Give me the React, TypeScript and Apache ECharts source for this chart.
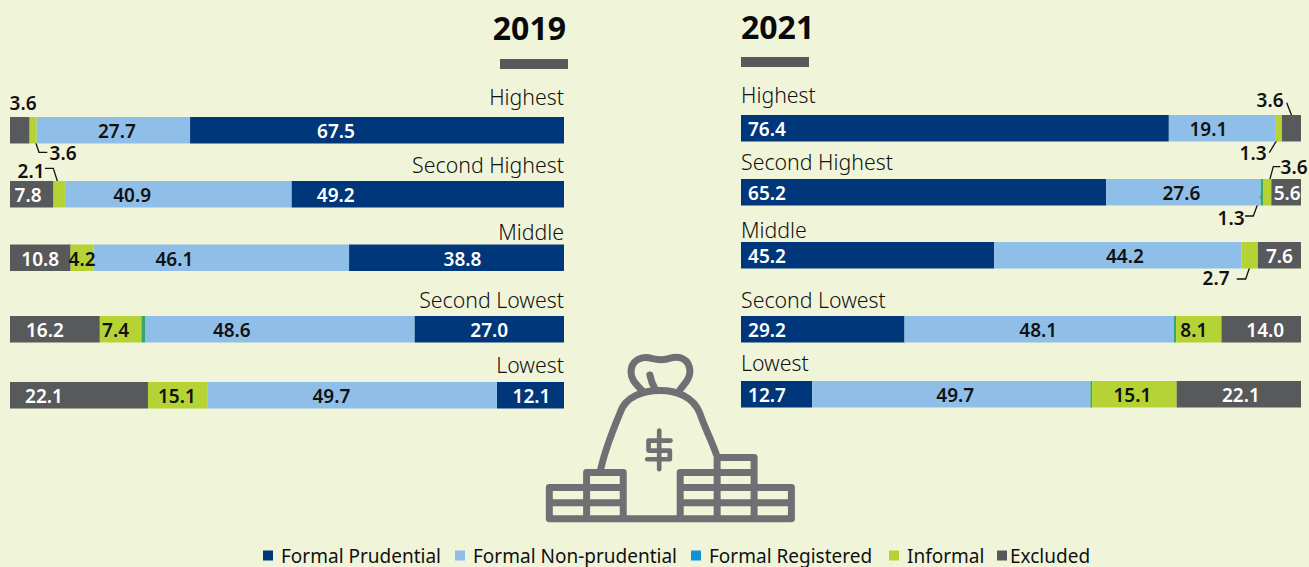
import React, { useEffect, useRef } from "react";
import * as echarts from "echarts";

const rows = ["Highest", "Second Highest", "Middle", "Second Lowest", "Lowest"];
const seriesNames = ["Formal Prudential", "Formal Non-prudential", "Formal Registered", "Informal", "Excluded"];

// Segment lengths as drawn (percent)
const prud2019 = [67.5, 49.2, 38.8, 27.0, 12.1];
const nonPrud2019 = [27.7, 40.9, 46.1, 48.6, 52.2];
const reg2019 = [0, 0, 0, 0.7, 0];
const informal2019 = [1.3, 2.1, 4.2, 7.5, 10.8];
const excluded2019 = [3.5, 7.8, 10.9, 16.2, 24.9];

const prud2021 = [76.4, 65.2, 45.2, 29.2, 12.7];
const nonPrud2021 = [19.1, 27.6, 44.2, 48.1, 49.7];
const reg2021 = [0, 0.5, 0, 0.4, 0.3];
const informal2021 = [1.1, 1.4, 2.9, 8.1, 15.1];
const excluded2021 = [3.4, 5.3, 7.7, 14.2, 22.2];

// Printed labels
const labelsPrud2019 = ["67.5", "49.2", "38.8", "27.0", "12.1"];
const labelsNonPrud2019 = ["27.7", "40.9", "46.1", "48.6", "49.7"];
const labelsInformal2019 = ["", "", "4.2", "7.4", "15.1"];
const labelsExcluded2019 = ["", "7.8", "10.8", "16.2", "22.1"];

const labelsPrud2021 = ["76.4", "65.2", "45.2", "29.2", "12.7"];
const labelsNonPrud2021 = ["19.1", "27.6", "44.2", "48.1", "49.7"];
const labelsInformal2021 = ["", "", "", "8.1", "15.1"];
const labelsExcluded2021 = ["", "5.6", "7.6", "14.0", "22.1"];

// Layout
const colors = ["#00377a", "#8fbfe8", "#0f93d6", "#b5d334", "#58595b"];
const registeredBarColor = "#38a66d";
const textColor = "#111111";
const font = "'Noto Sans'";
const rowTops2019 = [117, 181, 244.5, 316, 382];
const rowTops2021 = [115, 179, 242, 316, 381];
const rowLabelY2019 = [96, 164, 231, 299, 364];
const rowLabelY2021 = [94, 161, 229, 299, 362];
const offsets2019 = [
  [-41, -92, 6, 0, 1],
  [3.5, -46, -47, -48, -21],
  [0, 0, 0, 0, 0],
  [0, 0, 0, -5, -1],
  [0, -3.5, 0, -10, -35],
];
const offsets2021 = [
  [-188, -156.6, -100.6, -55.8, -9.6],
  [-14, -2, 7, -1, 4],
  [0, 0, 0, 0, 0],
  [0, 0, 0, -5, -2],
  [0, 1, 0, 4, 2],
];

const callouts = [
  { text: "3.6", x: 23, y: 103, line: [] as number[][] },
  { text: "3.6", x: 63, y: 153, line: [[33.7, 136.7], [39, 152.3], [47.3, 152.3]] },
  { text: "2.1", x: 31, y: 171, line: [[45, 168.3], [53.3, 168.3], [60, 189.3]] },
  { text: "3.6", x: 1270, y: 100, line: [[1286.7, 102.7], [1293.7, 120.7]] },
  { text: "1.3", x: 1253, y: 153, line: [[1269.3, 152.7], [1279, 136.7]] },
  { text: "3.6", x: 1294, y: 167, line: [[1280.3, 166.7], [1273.3, 166.7], [1267.7, 187.3]] },
  { text: "1.3", x: 1231, y: 218, line: [[1245, 216], [1253.3, 216], [1260.7, 196]] },
  { text: "2.7", x: 1216, y: 278, line: [[1236.7, 279], [1245.7, 279], [1252.7, 258.3]] },
];

const legendLefts = [263, 455, 691, 889, 997];

const bagPath =
  "M58 537 V443 H170 V398 H280 V537 M58 489 H280 M58 443 H280 M170 398 V537 " +
  "M785 537 V443 H673 V353 H562 V398 H451 V537 M451 398 H673 M451 443 H785 M451 489 H785 M562 353 V537 M673 353 V537 M58 537 H785 " +
  "M212 390 C225 330 245 280 270 220 C285 170 340 152 390 152 C440 152 490 170 510 220 C525 265 545 300 560 345 " +
  "M335 150 C315 130 300 115 304 88 C308 58 340 48 365 55 C385 60 400 62 420 55 C450 45 478 58 480 92 C482 115 465 130 450 150 " +
  "M360 105 C364 125 368 135 376 148";
const dollarPath = "M388 272 V388 M422 302 H356 V332 H420 V358 H352";

function rowSeries(
  year: string,
  gridBase: number,
  values: number[][],
  labels: string[][],
  offsets: number[][]
) {
  const out: any[] = [];
  rows.forEach((_, r) => {
    seriesNames.forEach((name, s) => {
      const text = labels[s][r];
      const dark = s === 0 || s === 4;
      out.push({
        type: "bar",
        name,
        xAxisIndex: gridBase + r,
        yAxisIndex: gridBase + r,
        stack: year + r,
        barWidth: "100%",
        silent: true,
        itemStyle: { color: colors[s] },
        label: { show: false },
        data: [
          {
            value: values[s][r],
            itemStyle: { color: s === 2 ? registeredBarColor : colors[s] },
            label: {
              show: text !== "",
              position: "inside",
              formatter: text,
              offset: [offsets[s][r], 1],
              color: dark ? "#ffffff" : textColor,
              fontFamily: font,
              fontWeight: 600,
              fontSize: 19,
            },
          },
        ],
      });
    });
  });
  return out;
}

export default function App() {
  const ref = useRef<HTMLDivElement>(null);
  useEffect(() => {
    if (!ref.current) return;
    echarts.graphic.registerShape("moneybag", echarts.graphic.extendPath(bagPath, {}) as any);
    echarts.graphic.registerShape("dollar", echarts.graphic.extendPath(dollarPath, {}) as any);
    const chart = echarts.init(ref.current, undefined, { renderer: "svg" });

    const empty = rows.map(() => "");
    const labels2019 = [labelsPrud2019, labelsNonPrud2019, empty, labelsInformal2019, labelsExcluded2019];
    const labels2021 = [labelsPrud2021, labelsNonPrud2021, empty, labelsInformal2021, labelsExcluded2021];
    const values2019 = [prud2019, nonPrud2019, reg2019, informal2019, excluded2019];
    const values2021 = [prud2021, nonPrud2021, reg2021, informal2021, excluded2021];

    const grids = [
      ...rowTops2019.map((top) => ({ left: 10, width: 554, top, height: 26.5 })),
      ...rowTops2021.map((top) => ({ left: 741, width: 560, top, height: 26.5 })),
    ];
    const xAxes = grids.map((_, i) => ({
      type: "value",
      gridIndex: i,
      min: 0,
      max: 100,
      inverse: i < 5,
      show: false,
    }));
    const yAxes = grids.map((_, i) => ({
      type: "category",
      gridIndex: i,
      data: [rows[i % 5]],
      show: false,
    }));

    const graphic: any[] = [
      { type: "text", x: 566, y: 27, style: { text: "2019", align: "right", verticalAlign: "middle", fontFamily: font, fontWeight: 700, fontSize: 32, fill: "#0a0a0a" } },
      { type: "text", x: 741, y: 26, style: { text: "2021", align: "left", verticalAlign: "middle", fontFamily: font, fontWeight: 700, fontSize: 32, fill: "#0a0a0a" } },
      { type: "rect", shape: { x: 500, y: 59, width: 68, height: 10 }, style: { fill: "#58595b" } },
      { type: "rect", shape: { x: 741, y: 57, width: 68, height: 10 }, style: { fill: "#58595b" } },
      { type: "moneybag", x: 530, y: 340, scaleX: 1 / 3, scaleY: 1 / 3, style: { fill: "none", stroke: "#6f7073", lineWidth: 21, lineJoin: "round", lineCap: "round" } },
      { type: "dollar", x: 530, y: 340, scaleX: 1 / 3, scaleY: 1 / 3, style: { fill: "none", stroke: "#6f7073", lineWidth: 14, lineJoin: "round", lineCap: "round" } },
    ];
    rows.forEach((name, i) => {
      graphic.push({ type: "text", x: 564, y: rowLabelY2019[i], style: { text: name, align: "right", verticalAlign: "middle", fontFamily: font, fontWeight: 300, fontSize: 21.3, fill: textColor } });
      graphic.push({ type: "text", x: 741, y: rowLabelY2021[i], style: { text: name, align: "left", verticalAlign: "middle", fontFamily: font, fontWeight: 300, fontSize: 21.3, fill: textColor } });
    });
    callouts.forEach((c) => {
      graphic.push({ type: "text", x: c.x, y: c.y, style: { text: c.text, align: "center", verticalAlign: "middle", fontFamily: font, fontWeight: 600, fontSize: 19, fill: textColor } });
      if (c.line.length) {
        graphic.push({ type: "polyline", shape: { points: c.line }, style: { fill: "none", stroke: textColor, lineWidth: 1.3 } });
      }
    });

    chart.setOption({
      animation: false,
      backgroundColor: "#f0f5da",
      grid: grids,
      xAxis: xAxes,
      yAxis: yAxes,
      legend: seriesNames.map((name, i) => ({
        data: [{ name, icon: "rect" }],
        left: legendLefts[i],
        top: 546,
        padding: 0,
        itemWidth: 10,
        itemHeight: 10,
        selectedMode: false,
        textStyle: {
          fontFamily: font,
          fontSize: 19,
          color: textColor,
          padding: i === 4 ? [0, 0, 0, -2] : [0, 0, 0, 3],
        },
      })),
      series: [
        ...rowSeries("y2019", 0, values2019, labels2019, offsets2019),
        ...rowSeries("y2021", 5, values2021, labels2021, offsets2021),
      ],
      graphic,
    });
    return () => chart.dispose();
  }, []);
  return <div ref={ref} style={{ position: "fixed", left: 0, top: 0, width: 1309, height: 567 }} />;
}
